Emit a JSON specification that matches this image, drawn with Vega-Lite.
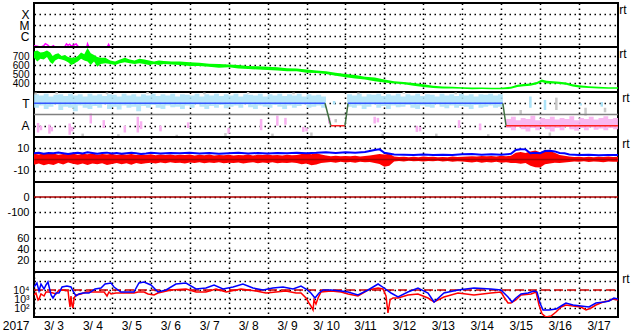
{
"$schema": "https://vega.github.io/schema/vega-lite/v6.json",
"background": "white",
"padding": {"left": 1, "top": 2, "right": 0, "bottom": 0},
"spacing": 0,
"bounds": "flush",
"config": {
  "font": "Liberation Sans",
  "view": {"stroke": "black", "strokeWidth": 2},
  "axis": {"labelFont": "Liberation Sans", "labelFontSize": 11, "labelColor": "black", "ticks": false, "domain": false, "grid": true, "gridColor": "black", "gridDash": [1.5, 3.5], "gridWidth": 1.5, "gridOpacity": 1, "labelPadding": 5, "labelOverlap": false, "labelBound": false},
  "title": {"fontSize": 12, "fontWeight": "normal", "font": "Liberation Sans", "color": "black"},
  "concat": {"spacing": 0}
},
"resolve": {"scale": {"x": "independent", "y": "independent"}},
"datasets": {
  "ends": [{"h": 0}, {"h": 360}],
  "xr": [{"h":0,"v":1.3e-7},{"h":2,"v":1.2e-7},{"h":4,"v":0.95e-7},{"h":6,"v":1.3e-7},{"h":7,"v":2e-7},{"h":8.5,"v":1.5e-7},{"h":10,"v":0.9e-7},{"h":12,"v":1.3e-7},{"h":13,"v":0.9e-7},{"h":18.5,"v":0.9e-7},{"h":19,"v":1.1e-7},{"h":20,"v":1.9e-7},{"h":21,"v":1.4e-7},{"h":22,"v":1.8e-7},{"h":23,"v":1.2e-7},{"h":25,"v":1.6e-7},{"h":26,"v":1.9e-7},{"h":27,"v":1.2e-7},{"h":29,"v":0.9e-7},{"h":32.5,"v":0.9e-7},{"h":33,"v":1.9e-7},{"h":34,"v":0.9e-7},{"h":45,"v":0.9e-7},{"h":46,"v":1.7e-7},{"h":47,"v":0.9e-7},{"h":60,"v":0.8e-7},{"h":360,"v":0.8e-7}],
  "sw": [{"h":0,"lo":680,"hi":750},{"h":2,"lo":640,"hi":760},{"h":4,"lo":670,"hi":740},{"h":6,"lo":660,"hi":745},{"h":8,"lo":690,"hi":760},{"h":10,"lo":630,"hi":740},{"h":11.5,"lo":610,"hi":700},{"h":13,"lo":650,"hi":720},{"h":15,"lo":670,"hi":730},{"h":17,"lo":660,"hi":700},{"h":19,"lo":650,"hi":710},{"h":21,"lo":630,"hi":690},{"h":23,"lo":600,"hi":680},{"h":25,"lo":620,"hi":680},{"h":27,"lo":640,"hi":700},{"h":29,"lo":670,"hi":740},{"h":31,"lo":650,"hi":720},{"h":33,"lo":640,"hi":790},{"h":35,"lo":600,"hi":730},{"h":37,"lo":640,"hi":710},{"h":39,"lo":580,"hi":690},{"h":41,"lo":610,"hi":680},{"h":44,"lo":620,"hi":680},{"h":47,"lo":610,"hi":650},{"h":50,"lo":600,"hi":640},{"h":53,"lo":620,"hi":660},{"h":56,"lo":630,"hi":680},{"h":59,"lo":620,"hi":660},{"h":62,"lo":610,"hi":650},{"h":65,"lo":620,"hi":670},{"h":68,"lo":610,"hi":660},{"h":71,"lo":600,"hi":650},{"h":74,"lo":610,"hi":640},{"h":77,"lo":600,"hi":650},{"h":80,"lo":610,"hi":645},{"h":85,"lo":605,"hi":640},{"h":90,"lo":600,"hi":640},{"h":96,"lo":590,"hi":630},{"h":102,"lo":590,"hi":625},{"h":108,"lo":580,"hi":615},{"h":114,"lo":570,"hi":610},{"h":120,"lo":575,"hi":605},{"h":126,"lo":560,"hi":600},{"h":132,"lo":555,"hi":590},{"h":138,"lo":550,"hi":585},{"h":144,"lo":545,"hi":580},{"h":150,"lo":540,"hi":575},{"h":156,"lo":530,"hi":565},{"h":162,"lo":530,"hi":560},{"h":168,"lo":515,"hi":550},{"h":174,"lo":510,"hi":540},{"h":180,"lo":500,"hi":530},{"h":186,"lo":480,"hi":515},{"h":192,"lo":465,"hi":500},{"h":198,"lo":450,"hi":490},{"h":204,"lo":440,"hi":470},{"h":210,"lo":420,"hi":460},{"h":216,"lo":405,"hi":440},{"h":222,"lo":395,"hi":420},{"h":228,"lo":385,"hi":410},{"h":234,"lo":370,"hi":400},{"h":240,"lo":355,"hi":385},{"h":246,"lo":345,"hi":370},{"h":252,"lo":340,"hi":360},{"h":258,"lo":338,"hi":357},{"h":264,"lo":335,"hi":352},{"h":270,"lo":330,"hi":350},{"h":276,"lo":332,"hi":350},{"h":282,"lo":330,"hi":348},{"h":288,"lo":330,"hi":348},{"h":294,"lo":335,"hi":358},{"h":298,"lo":355,"hi":380},{"h":302,"lo":365,"hi":390},{"h":306,"lo":370,"hi":395},{"h":310,"lo":385,"hi":410},{"h":313,"lo":410,"hi":440},{"h":316,"lo":395,"hi":425},{"h":320,"lo":395,"hi":420},{"h":324,"lo":390,"hi":415},{"h":328,"lo":380,"hi":405},{"h":332,"lo":360,"hi":385},{"h":336,"lo":350,"hi":375},{"h":342,"lo":345,"hi":365},{"h":348,"lo":338,"hi":357},{"h":354,"lo":336,"hi":352},{"h":360,"lo":335,"hi":352}],
  "tb": [{"g":1,"h":0,"lo":2.6,"hi":3.8},{"g":1,"h":3,"lo":2.8,"hi":3.7},{"g":1,"h":6,"lo":2.5,"hi":3.85},{"g":1,"h":9,"lo":2.7,"hi":3.6},{"g":1,"h":12,"lo":2.9,"hi":3.75},{"g":1,"h":15,"lo":2.4,"hi":3.8},{"g":1,"h":18,"lo":2.7,"hi":3.65},{"g":1,"h":21,"lo":2.6,"hi":3.85},{"g":1,"h":24,"lo":2.3,"hi":3.7},{"g":1,"h":27,"lo":2.8,"hi":3.8},{"g":1,"h":30,"lo":2.6,"hi":3.6},{"g":1,"h":33,"lo":2.5,"hi":3.85},{"g":1,"h":36,"lo":2.75,"hi":3.7},{"g":1,"h":39,"lo":2.6,"hi":3.8},{"g":1,"h":42,"lo":2.9,"hi":3.65},{"g":1,"h":45,"lo":2.5,"hi":3.8},{"g":1,"h":48,"lo":2.7,"hi":3.75},{"g":1,"h":51,"lo":2.45,"hi":3.6},{"g":1,"h":54,"lo":2.8,"hi":3.85},{"g":1,"h":57,"lo":2.6,"hi":3.7},{"g":1,"h":60,"lo":2.7,"hi":3.8},{"g":1,"h":63,"lo":2.3,"hi":3.6},{"g":1,"h":66,"lo":2.75,"hi":3.8},{"g":1,"h":69,"lo":2.6,"hi":3.7},{"g":1,"h":72,"lo":2.85,"hi":3.85},{"g":1,"h":75,"lo":2.6,"hi":3.65},{"g":1,"h":78,"lo":2.5,"hi":3.8},{"g":1,"h":81,"lo":2.8,"hi":3.7},{"g":1,"h":84,"lo":2.65,"hi":3.85},{"g":1,"h":87,"lo":2.7,"hi":3.6},{"g":1,"h":90,"lo":2.5,"hi":3.8},{"g":1,"h":93,"lo":2.8,"hi":3.75},{"g":1,"h":96,"lo":2.6,"hi":3.7},{"g":1,"h":99,"lo":2.9,"hi":3.85},{"g":1,"h":102,"lo":2.7,"hi":3.6},{"g":1,"h":105,"lo":2.5,"hi":3.8},{"g":1,"h":108,"lo":2.75,"hi":3.7},{"g":1,"h":111,"lo":2.6,"hi":3.85},{"g":1,"h":114,"lo":2.85,"hi":3.65},{"g":1,"h":117,"lo":2.55,"hi":3.8},{"g":1,"h":120,"lo":2.7,"hi":3.7},{"g":1,"h":123,"lo":2.8,"hi":3.85},{"g":1,"h":126,"lo":2.6,"hi":3.6},{"g":1,"h":129,"lo":2.9,"hi":3.8},{"g":1,"h":132,"lo":2.65,"hi":3.75},{"g":1,"h":135,"lo":2.5,"hi":3.7},{"g":1,"h":138,"lo":2.8,"hi":3.85},{"g":1,"h":141,"lo":2.7,"hi":3.6},{"g":1,"h":144,"lo":2.6,"hi":3.8},{"g":1,"h":147,"lo":2.85,"hi":3.7},{"g":1,"h":150,"lo":2.7,"hi":3.85},{"g":1,"h":153,"lo":2.5,"hi":3.65},{"g":1,"h":156,"lo":2.8,"hi":3.8},{"g":1,"h":159,"lo":2.6,"hi":3.7},{"g":1,"h":162,"lo":2.75,"hi":3.85},{"g":1,"h":165,"lo":2.9,"hi":3.6},{"g":1,"h":168,"lo":2.6,"hi":3.8},{"g":1,"h":171,"lo":2.7,"hi":3.7},{"g":1,"h":174,"lo":2.8,"hi":3.75},{"g":1,"h":177,"lo":2.6,"hi":3.6},{"g":1,"h":180,"lo":2.6,"hi":3.6},
        {"g":2,"h":193,"lo":2.7,"hi":3.8},{"g":2,"h":196,"lo":2.6,"hi":3.7},{"g":2,"h":199,"lo":2.8,"hi":3.85},{"g":2,"h":202,"lo":2.5,"hi":3.6},{"g":2,"h":205,"lo":2.7,"hi":3.8},{"g":2,"h":208,"lo":2.9,"hi":3.75},{"g":2,"h":211,"lo":2.6,"hi":3.85},{"g":2,"h":214,"lo":2.75,"hi":3.65},{"g":2,"h":217,"lo":2.5,"hi":3.8},{"g":2,"h":220,"lo":2.8,"hi":3.7},{"g":2,"h":223,"lo":2.65,"hi":3.85},{"g":2,"h":226,"lo":2.7,"hi":3.6},{"g":2,"h":229,"lo":2.85,"hi":3.8},{"g":2,"h":232,"lo":2.6,"hi":3.7},{"g":2,"h":235,"lo":2.5,"hi":3.85},{"g":2,"h":238,"lo":2.8,"hi":3.65},{"g":2,"h":241,"lo":2.7,"hi":3.8},{"g":2,"h":244,"lo":2.6,"hi":3.75},{"g":2,"h":247,"lo":2.9,"hi":3.6},{"g":2,"h":250,"lo":2.7,"hi":3.85},{"g":2,"h":253,"lo":2.55,"hi":3.7},{"g":2,"h":256,"lo":2.8,"hi":3.8},{"g":2,"h":259,"lo":2.6,"hi":3.65},{"g":2,"h":262,"lo":2.75,"hi":3.85},{"g":2,"h":265,"lo":2.7,"hi":3.7},{"g":2,"h":268,"lo":2.5,"hi":3.8},{"g":2,"h":271,"lo":2.85,"hi":3.6},{"g":2,"h":274,"lo":2.6,"hi":3.8},{"g":2,"h":277,"lo":2.7,"hi":3.75},{"g":2,"h":280,"lo":2.8,"hi":3.85},{"g":2,"h":283,"lo":2.6,"hi":3.7},{"g":2,"h":286,"lo":2.7,"hi":3.8},{"g":2,"h":289,"lo":2.7,"hi":3.8}],
  "lbr": [{"h":185,"lo":2.9,"hi":3.2},{"h":306,"lo":2.6,"hi":3.6},{"h":315,"lo":2.4,"hi":3.3},{"h":337,"lo":2.8,"hi":3.0},{"h":350,"lo":2.7,"hi":3.1}],
  "gr": [{"h":1,"lo":3.75,"hi":3.95},{"h":14,"lo":3.8,"hi":4},{"h":30,"lo":0,"hi":0.3},{"h":45,"lo":3.8,"hi":3.95},{"h":52,"lo":0.05,"hi":0.25},{"h":70,"lo":3.85,"hi":4},{"h":88,"lo":0,"hi":0.2},{"h":105,"lo":3.8,"hi":3.95},{"h":118,"lo":0.1,"hi":0.35},{"h":132,"lo":3.85,"hi":4},{"h":147,"lo":0,"hi":0.3},{"h":160,"lo":3.8,"hi":3.95},{"h":171,"lo":0.1,"hi":0.4},{"h":186,"lo":1.3,"hi":1.6},{"h":200,"lo":3.8,"hi":3.95},{"h":215,"lo":0,"hi":0.3},{"h":228,"lo":3.85,"hi":4},{"h":248,"lo":0.05,"hi":0.3},{"h":260,"lo":3.8,"hi":3.95},{"h":280,"lo":0,"hi":0.25},{"h":300,"lo":2.0,"hi":2.4},{"h":318,"lo":0.1,"hi":0.4},{"h":322,"lo":2.4,"hi":3.5},{"h":340,"lo":1.9,"hi":2.6},{"h":352,"lo":2.2,"hi":2.6}],
  "pk": [{"h":2.5,"lo":0.4,"hi":1.25},{"h":4.3,"lo":0.6,"hi":1.0},{"h":9.5,"lo":0.3,"hi":1.1},{"h":11,"lo":0.5,"hi":0.9},{"h":22,"lo":0.2,"hi":1.2},{"h":23.5,"lo":0.5,"hi":0.9},{"h":35,"lo":1.2,"hi":2.1},{"h":43,"lo":0.8,"hi":1.5},{"h":56,"lo":0.4,"hi":1.0},{"h":64,"lo":0.4,"hi":1.8},{"h":66,"lo":0.7,"hi":1.4},{"h":78,"lo":0.5,"hi":1.0},{"h":95,"lo":0.8,"hi":1.3},{"h":120,"lo":0.3,"hi":0.8},{"h":140,"lo":0.6,"hi":1.6},{"h":150,"lo":1.0,"hi":1.9},{"h":155,"lo":1.1,"hi":1.7},{"h":166,"lo":0.45,"hi":0.9},{"h":168,"lo":0.5,"hi":0.8},{"h":182,"lo":1.2,"hi":1.7},{"h":210,"lo":1.2,"hi":1.8},{"h":212,"lo":1.3,"hi":1.7},{"h":236,"lo":0.45,"hi":1.0},{"h":238,"lo":0.5,"hi":0.9},{"h":262,"lo":0.8,"hi":1.5},{"h":275,"lo":0.6,"hi":1.2}],
  "pb": [{"h":291,"lo":0.8,"hi":1.6},{"h":294,"lo":0.6,"hi":1.8},{"h":297,"lo":0.9,"hi":1.5},{"h":300,"lo":0.7,"hi":1.7},{"h":303,"lo":0.5,"hi":1.6},{"h":306,"lo":0.8,"hi":1.9},{"h":309,"lo":0.6,"hi":1.5},{"h":312,"lo":0.9,"hi":1.7},{"h":315,"lo":0.7,"hi":1.6},{"h":318,"lo":0.5,"hi":1.8},{"h":321,"lo":0.8,"hi":1.55},{"h":324,"lo":0.6,"hi":1.7},{"h":327,"lo":0.9,"hi":1.6},{"h":330,"lo":0.7,"hi":1.85},{"h":333,"lo":0.55,"hi":1.5},{"h":336,"lo":0.8,"hi":1.7},{"h":339,"lo":0.6,"hi":1.6},{"h":342,"lo":0.85,"hi":1.8},{"h":345,"lo":0.65,"hi":1.55},{"h":348,"lo":0.75,"hi":1.7},{"h":351,"lo":0.6,"hi":1.85},{"h":354,"lo":0.8,"hi":1.6},{"h":357,"lo":0.7,"hi":1.7},{"h":360,"lo":0.7,"hi":1.7}],
  "st": [{"h":0,"v":3,"s":1,"c":"b"},{"h":179.4,"v":3,"s":1,"c":"b"},{"h":179.4,"v":3,"s":2,"c":"g"},{"h":183,"v":1,"s":2,"c":"g"},{"h":183,"v":1,"s":3,"c":"r"},{"h":191.7,"v":1,"s":3,"c":"r"},{"h":191.7,"v":1,"s":4,"c":"g"},{"h":193.6,"v":3,"s":4,"c":"g"},{"h":193.6,"v":3,"s":5,"c":"b"},{"h":289,"v":3,"s":5,"c":"b"},{"h":289,"v":3,"s":6,"c":"g"},{"h":291,"v":1,"s":6,"c":"g"},{"h":291,"v":1,"s":7,"c":"r"},{"h":360,"v":1,"s":7,"c":"r"}],
  "bz": [{"h":0,"hi":5.2,"lo":-4.6},{"h":3,"hi":4.4,"lo":-3.5},{"h":6,"hi":5.6,"lo":-5.1},{"h":9,"hi":4.8,"lo":-4.0},{"h":12,"hi":5.3,"lo":-4.8},{"h":15,"hi":4.2,"lo":-3.2},{"h":18,"hi":5.0,"lo":-4.4},{"h":21,"hi":4.6,"lo":-2.6},{"h":24,"hi":5.4,"lo":-3.8},{"h":27,"hi":4.3,"lo":-4.6},{"h":30,"hi":5.1,"lo":-3.5},{"h":33,"hi":4.7,"lo":-4.9},{"h":36,"hi":5.5,"lo":-3.6},{"h":39,"hi":4.2,"lo":-4.3},{"h":42,"hi":4.9,"lo":-3.3},{"h":45,"hi":4.4,"lo":-4.8},{"h":48,"hi":5.2,"lo":-3.9},{"h":51,"hi":4.0,"lo":-3.0},{"h":54,"hi":4.8,"lo":-4.2},{"h":57,"hi":4.3,"lo":-3.4},{"h":60,"hi":5.0,"lo":-4.6},{"h":63,"hi":3.9,"lo":-3.1},{"h":66,"hi":4.6,"lo":-4.0},{"h":69,"hi":4.1,"lo":-3.3},{"h":72,"hi":4.7,"lo":-2.9},{"h":75,"hi":3.8,"lo":-3.6},{"h":78,"hi":4.5,"lo":-2.7},{"h":81,"hi":4.0,"lo":-3.4},{"h":84,"hi":4.4,"lo":-2.5},{"h":87,"hi":3.7,"lo":-3.2},{"h":90,"hi":4.3,"lo":-2.8},{"h":93,"hi":3.9,"lo":-3.5},{"h":96,"hi":4.5,"lo":-2.6},{"h":99,"hi":3.6,"lo":-3.0},{"h":102,"hi":4.2,"lo":-2.4},{"h":105,"hi":3.8,"lo":-3.3},{"h":108,"hi":4.4,"lo":-2.7},{"h":111,"hi":3.5,"lo":-3.1},{"h":114,"hi":4.1,"lo":-2.5},{"h":117,"hi":3.7,"lo":-3.4},{"h":120,"hi":4.3,"lo":-2.8},{"h":123,"hi":3.6,"lo":-3.2},{"h":126,"hi":4.0,"lo":-2.6},{"h":129,"hi":3.8,"lo":-3.5},{"h":132,"hi":4.4,"lo":-2.9},{"h":135,"hi":3.5,"lo":-2.4},{"h":138,"hi":4.2,"lo":-3.3},{"h":141,"hi":3.9,"lo":-2.7},{"h":144,"hi":4.5,"lo":-3.1},{"h":147,"hi":3.7,"lo":-2.5},{"h":150,"hi":4.1,"lo":-3.4},{"h":153,"hi":3.6,"lo":-2.8},{"h":156,"hi":4.3,"lo":-3.2},{"h":159,"hi":3.8,"lo":-2.6},{"h":162,"hi":4.0,"lo":-3.0},{"h":165,"hi":4.8,"lo":-4.2},{"h":168,"hi":5.3,"lo":-3.6},{"h":171,"hi":4.6,"lo":-5.0},{"h":174,"hi":5.5,"lo":-4.4},{"h":177,"hi":4.4,"lo":-3.2},{"h":180,"hi":3.6,"lo":-2.6},{"h":183,"hi":3.0,"lo":-2.2},{"h":186,"hi":3.4,"lo":-2.8},{"h":189,"hi":2.8,"lo":-2.0},{"h":192,"hi":3.2,"lo":-2.6},{"h":195,"hi":2.9,"lo":-2.3},{"h":198,"hi":3.3,"lo":-2.9},{"h":201,"hi":2.7,"lo":-2.1},{"h":204,"hi":3.1,"lo":-2.5},{"h":207,"hi":3.5,"lo":-2.2},{"h":210,"hi":4.2,"lo":-3.0},{"h":213,"hi":5.0,"lo":-4.0},{"h":216,"hi":4.4,"lo":-6.5},{"h":219,"hi":5.2,"lo":-5.5},{"h":222,"hi":2.6,"lo":-1.8},{"h":225,"hi":2.2,"lo":-1.4},{"h":228,"hi":2.5,"lo":-1.7},{"h":231,"hi":2.0,"lo":-1.2},{"h":234,"hi":2.4,"lo":-1.6},{"h":237,"hi":2.1,"lo":-1.3},{"h":240,"hi":2.6,"lo":-1.8},{"h":243,"hi":2.2,"lo":-1.4},{"h":246,"hi":2.5,"lo":-1.6},{"h":249,"hi":2.0,"lo":-1.2},{"h":252,"hi":2.3,"lo":-1.7},{"h":255,"hi":2.1,"lo":-1.3},{"h":258,"hi":2.6,"lo":-1.9},{"h":261,"hi":2.2,"lo":-1.5},{"h":264,"hi":2.4,"lo":-1.8},{"h":267,"hi":2.7,"lo":-2.2},{"h":270,"hi":3.0,"lo":-2.6},{"h":273,"hi":2.6,"lo":-2.1},{"h":276,"hi":3.2,"lo":-2.8},{"h":279,"hi":2.8,"lo":-2.3},{"h":282,"hi":3.1,"lo":-2.7},{"h":285,"hi":2.7,"lo":-2.0},{"h":288,"hi":3.3,"lo":-2.9},{"h":291,"hi":2.9,"lo":-2.4},{"h":294,"hi":3.4,"lo":-3.0},{"h":297,"hi":6.0,"lo":-3.2},{"h":300,"hi":6.6,"lo":-3.8},{"h":303,"hi":5.8,"lo":-3.0},{"h":306,"hi":7.2,"lo":-5.5},{"h":309,"hi":8.0,"lo":-6.8},{"h":312,"hi":6.5,"lo":-7.0},{"h":315,"hi":8.2,"lo":-4.2},{"h":318,"hi":7.5,"lo":-3.5},{"h":321,"hi":6.0,"lo":-2.8},{"h":324,"hi":4.0,"lo":-3.0},{"h":327,"hi":3.4,"lo":-2.6},{"h":330,"hi":2.6,"lo":-2.2},{"h":333,"hi":2.2,"lo":-1.8},{"h":336,"hi":2.5,"lo":-2.1},{"h":339,"hi":2.0,"lo":-1.6},{"h":342,"hi":2.4,"lo":-2.3},{"h":345,"hi":2.1,"lo":-1.7},{"h":348,"hi":2.5,"lo":-2.0},{"h":351,"hi":2.2,"lo":-2.4},{"h":354,"hi":2.6,"lo":-1.8},{"h":357,"hi":2.3,"lo":-2.1},{"h":360,"hi":2.4,"lo":-1.9}],
  "bt": [{"h":0,"v":5.5},{"h":3,"v":6.0},{"h":6,"v":5.2},{"h":9,"v":5.8},{"h":12,"v":5.5},{"h":15,"v":6.2},{"h":18,"v":5.6},{"h":21,"v":5.0},{"h":24,"v":5.6},{"h":27,"v":6.0},{"h":30,"v":5.3},{"h":33,"v":6.4},{"h":36,"v":5.8},{"h":39,"v":5.2},{"h":42,"v":5.7},{"h":45,"v":6.1},{"h":48,"v":5.4},{"h":51,"v":5.8},{"h":54,"v":5.2},{"h":57,"v":5.6},{"h":60,"v":6.0},{"h":63,"v":5.5},{"h":66,"v":5.0},{"h":69,"v":5.4},{"h":72,"v":5.9},{"h":78,"v":5.3},{"h":84,"v":5.8},{"h":90,"v":5.5},{"h":96,"v":6.0},{"h":102,"v":5.4},{"h":108,"v":5.7},{"h":114,"v":5.2},{"h":120,"v":5.6},{"h":126,"v":5.9},{"h":132,"v":5.4},{"h":138,"v":5.8},{"h":144,"v":5.3},{"h":150,"v":5.7},{"h":156,"v":5.5},{"h":162,"v":6.0},{"h":168,"v":5.6},{"h":174,"v":5.9},{"h":180,"v":6.4},{"h":186,"v":5.8},{"h":192,"v":6.5},{"h":198,"v":6.0},{"h":204,"v":6.6},{"h":210,"v":8.5},{"h":213,"v":9.0},{"h":216,"v":6.0},{"h":222,"v":4.5},{"h":228,"v":4.2},{"h":234,"v":4.0},{"h":240,"v":4.4},{"h":246,"v":4.0},{"h":252,"v":4.3},{"h":258,"v":4.0},{"h":264,"v":4.6},{"h":270,"v":4.8},{"h":276,"v":4.2},{"h":282,"v":4.6},{"h":288,"v":4.3},{"h":294,"v":5.0},{"h":297,"v":8.5},{"h":300,"v":9.2},{"h":303,"v":9.0},{"h":306,"v":5.5},{"h":309,"v":6.0},{"h":312,"v":5.6},{"h":315,"v":7.5},{"h":318,"v":7.8},{"h":321,"v":7.2},{"h":324,"v":5.8},{"h":327,"v":5.6},{"h":330,"v":4.5},{"h":336,"v":4.0},{"h":342,"v":4.2},{"h":348,"v":3.8},{"h":354,"v":4.1},{"h":360,"v":4.0}],
  "ef": [{"h":0,"v":21500},{"h":1.8,"v":60000},{"h":3.1,"v":7740},{"h":4.3,"v":46400},{"h":6.2,"v":12900},{"h":7.4,"v":36000},{"h":8.6,"v":77400},{"h":10.5,"v":2780},{"h":11.7,"v":1290},{"h":13.6,"v":4640},{"h":15.4,"v":4640},{"h":17.3,"v":21500},{"h":20.3,"v":27800},{"h":22.8,"v":21500},{"h":24,"v":7740},{"h":25.9,"v":2150},{"h":27.7,"v":3600},{"h":30.2,"v":4640},{"h":33.9,"v":4640},{"h":37.6,"v":12900},{"h":41.3,"v":16700},{"h":43.8,"v":46400},{"h":47.5,"v":60000},{"h":49.3,"v":21500},{"h":53.6,"v":6000},{"h":61.6,"v":6000},{"h":64.7,"v":60000},{"h":67.8,"v":77400},{"h":72.1,"v":36000},{"h":76.4,"v":6000},{"h":81.4,"v":10000},{"h":87.5,"v":46400},{"h":93.7,"v":60000},{"h":99.9,"v":12900},{"h":106,"v":16700},{"h":111,"v":36000},{"h":116.5,"v":12900},{"h":122.7,"v":21500},{"h":128.8,"v":46400},{"h":135,"v":16700},{"h":141.2,"v":10000},{"h":147.3,"v":16700},{"h":153.5,"v":21500},{"h":159.7,"v":12900},{"h":164.6,"v":27800},{"h":167.7,"v":12900},{"h":170.7,"v":4640},{"h":173.2,"v":1290},{"h":175.7,"v":4640},{"h":178.2,"v":10000},{"h":183.1,"v":10000},{"h":189.3,"v":7740},{"h":193.6,"v":6000},{"h":199.7,"v":2780},{"h":205.9,"v":10000},{"h":212.1,"v":46400},{"h":215.8,"v":16700},{"h":220.1,"v":4640},{"h":224.4,"v":1670},{"h":230.5,"v":6000},{"h":236.7,"v":16700},{"h":242.9,"v":4640},{"h":246.6,"v":464},{"h":252.7,"v":4640},{"h":261.4,"v":10000},{"h":271.2,"v":16700},{"h":281.7,"v":12900},{"h":287.9,"v":10000},{"h":289.7,"v":4640},{"h":292.2,"v":1670},{"h":294.7,"v":464},{"h":297.1,"v":1290},{"h":300.2,"v":3600},{"h":304.5,"v":4640},{"h":308.2,"v":7740},{"h":310.1,"v":6000},{"h":311.9,"v":360},{"h":313.8,"v":60},{"h":317.5,"v":60},{"h":321.8,"v":77},{"h":324.9,"v":167},{"h":327.9,"v":360},{"h":332.3,"v":215},{"h":337.2,"v":167},{"h":342.1,"v":129},{"h":346.4,"v":360},{"h":351.4,"v":464},{"h":354.5,"v":600},{"h":357.5,"v":1290},{"h":360,"v":1000}],
  "pf": [{"h":0,"v":2780},{"h":1.2,"v":4640},{"h":2.5,"v":774},{"h":3.1,"v":1000},{"h":4.3,"v":3600},{"h":6.2,"v":2150},{"h":7.4,"v":6000},{"h":9.2,"v":6000},{"h":11.7,"v":4640},{"h":13.6,"v":3600},{"h":15.4,"v":10000},{"h":18.5,"v":10000},{"h":21,"v":7740},{"h":21.6,"v":774},{"h":22.2,"v":129},{"h":22.8,"v":2150},{"h":23.4,"v":215},{"h":24,"v":100},{"h":24.7,"v":1290},{"h":25.9,"v":2780},{"h":29,"v":3600},{"h":32.1,"v":6000},{"h":38.2,"v":6000},{"h":43.2,"v":6000},{"h":45,"v":2150},{"h":46.2,"v":6000},{"h":47.5,"v":3600},{"h":50.5,"v":4640},{"h":56.7,"v":4640},{"h":61.6,"v":4640},{"h":64.1,"v":6000},{"h":67.8,"v":6000},{"h":70.3,"v":3600},{"h":74,"v":2780},{"h":76.4,"v":4640},{"h":84.5,"v":10000},{"h":93.7,"v":12900},{"h":99.9,"v":6000},{"h":106,"v":6000},{"h":112.2,"v":12900},{"h":118.4,"v":6000},{"h":127.6,"v":12900},{"h":136.9,"v":7740},{"h":143,"v":4640},{"h":149.2,"v":6000},{"h":155.3,"v":7740},{"h":161.5,"v":4640},{"h":164.6,"v":4640},{"h":167.7,"v":1290},{"h":169.5,"v":360},{"h":170.7,"v":167},{"h":172,"v":60},{"h":172.6,"v":774},{"h":173.8,"v":278},{"h":175.1,"v":1290},{"h":176.9,"v":6000},{"h":183.1,"v":7740},{"h":189.3,"v":6000},{"h":193.6,"v":3600},{"h":199.7,"v":2150},{"h":205.9,"v":10000},{"h":212.1,"v":16700},{"h":215.1,"v":12900},{"h":217,"v":2150},{"h":218.2,"v":28},{"h":219.5,"v":774},{"h":221.3,"v":1290},{"h":224.4,"v":1290},{"h":230.5,"v":2780},{"h":236.7,"v":3600},{"h":242.9,"v":1290},{"h":246.6,"v":464},{"h":252.7,"v":1670},{"h":261.4,"v":4640},{"h":271.2,"v":2780},{"h":281.7,"v":4640},{"h":287.9,"v":6000},{"h":289.7,"v":1670},{"h":292.2,"v":360},{"h":294,"v":360},{"h":297.1,"v":774},{"h":300.2,"v":2780},{"h":306.4,"v":3600},{"h":309.5,"v":6000},{"h":311.3,"v":215},{"h":313.2,"v":22},{"h":315.6,"v":10},{"h":318.7,"v":13},{"h":321.8,"v":36},{"h":324.9,"v":129},{"h":327.9,"v":215},{"h":332.3,"v":167},{"h":337.2,"v":129},{"h":340.3,"v":60},{"h":343.4,"v":100},{"h":346.4,"v":215},{"h":350.8,"v":464},{"h":353.8,"v":600},{"h":357,"v":1000},{"h":360,"v":774}]
},
"vconcat": [
  {
    "width": 584, "height": 44,
    "title": {"text": "rt", "orient": "right", "anchor": "start", "angle": 0, "align": "left", "baseline": "top", "offset": 3, "dx": -9, "dy": 2},
    "encoding": {"x": {"field": "h", "type": "quantitative", "title": null, "scale": {"domain": [0, 360], "nice": false, "zero": false}, "axis": {"values": [24,48,72,96,120,144,168,192,216,240,264,288,312,336], "labels": false}}},
    "layer": [
      {"data": {"name": "xr"}, "mark": {"type": "line", "color": "#ff00ff", "strokeWidth": 1.5, "clip": true},
       "encoding": {"y": {"field": "v", "type": "quantitative", "title": null, "scale": {"type": "log", "domain": [1e-7, 1e-3], "nice": false}, "axis": {"values": [1e-6, 1e-5, 1e-4], "labelExpr": "datum.value > 5e-5 ? 'X' : (datum.value > 5e-6 ? 'M' : 'C')", "labelFontSize": 12}}}}
    ]
  },
  {
    "width": 584, "height": 45,
    "title": {"text": "rt", "orient": "right", "anchor": "start", "angle": 0, "align": "left", "baseline": "top", "offset": 3, "dx": -9, "dy": 2},
    "encoding": {"x": {"field": "h", "type": "quantitative", "title": null, "scale": {"domain": [0, 360], "nice": false, "zero": false}, "axis": {"values": [24,48,72,96,120,144,168,192,216,240,264,288,312,336], "labels": false}}},
    "layer": [
      {"data": {"name": "sw"}, "mark": {"type": "area", "color": "#00ff00", "clip": true},
       "encoding": {"y": {"field": "lo", "type": "quantitative", "title": null, "scale": {"domain": [300, 800], "nice": false}, "axis": {"values": [400, 500, 600, 700], "labelFontSize": 10}}, "y2": {"field": "hi"}}}
    ]
  },
  {
    "width": 584, "height": 45,
    "title": {"text": "rt", "orient": "right", "anchor": "start", "angle": 0, "align": "left", "baseline": "top", "offset": 3, "dx": -9, "dy": 2},
    "encoding": {"x": {"field": "h", "type": "quantitative", "title": null, "scale": {"domain": [0, 360], "nice": false, "zero": false}, "axis": {"values": [24,48,72,96,120,144,168,192,216,240,264,288,312,336], "labels": false}}},
    "layer": [
      {"data": {"name": "tb"}, "mark": {"type": "area", "color": "#aae2f8", "opacity": 0.85, "interpolate": "step-after", "clip": true},
       "encoding": {"y": {"field": "lo", "type": "quantitative", "title": null, "scale": {"domain": [0, 4], "nice": false}, "axis": {"values": [1, 3], "labelExpr": "datum.value == 3 ? 'T' : 'A'", "labelFontSize": 12}}, "y2": {"field": "hi"}, "detail": {"field": "g"}}},
      {"data": {"name": "lbr"}, "mark": {"type": "rule", "color": "#aae2f8", "strokeWidth": 2.5},
       "encoding": {"y": {"field": "lo", "type": "quantitative", "title": null, "scale": {"domain": [0, 4], "nice": false}}, "y2": {"field": "hi"}}},
      {"data": {"name": "gr"}, "mark": {"type": "rule", "color": "#c8c8c8", "strokeWidth": 2.5},
       "encoding": {"y": {"field": "lo", "type": "quantitative", "title": null, "scale": {"domain": [0, 4], "nice": false}}, "y2": {"field": "hi"}}},
      {"data": {"name": "pk"}, "mark": {"type": "rule", "color": "#f8b0f0", "strokeWidth": 2.5},
       "encoding": {"y": {"field": "lo", "type": "quantitative", "title": null, "scale": {"domain": [0, 4], "nice": false}}, "y2": {"field": "hi"}}},
      {"data": {"name": "pb"}, "mark": {"type": "area", "color": "#f8b0f0", "opacity": 0.9, "interpolate": "step-after", "clip": true},
       "encoding": {"y": {"field": "lo", "type": "quantitative", "title": null, "scale": {"domain": [0, 4], "nice": false}}, "y2": {"field": "hi"}}},
      {"data": {"name": "ends"}, "mark": {"type": "line", "color": "#808080", "strokeWidth": 1.5},
       "encoding": {"y": {"datum": 2, "type": "quantitative", "title": null, "scale": {"domain": [0, 4], "nice": false}}}},
      {"data": {"name": "st"}, "mark": {"type": "line", "strokeWidth": 1.5},
       "encoding": {"y": {"field": "v", "type": "quantitative", "title": null, "scale": {"domain": [0, 4], "nice": false}}, "detail": {"field": "s"}, "color": {"field": "c", "type": "nominal", "scale": {"domain": ["b", "g", "r"], "range": ["#3355ff", "#407040", "#ff2020"]}, "legend": null}}}
    ]
  },
  {
    "width": 584, "height": 45,
    "title": {"text": "rt", "orient": "right", "anchor": "start", "angle": 0, "align": "left", "baseline": "top", "offset": 3, "dx": -9, "dy": 2},
    "encoding": {"x": {"field": "h", "type": "quantitative", "title": null, "scale": {"domain": [0, 360], "nice": false, "zero": false}, "axis": {"values": [24,48,72,96,120,144,168,192,216,240,264,288,312,336], "labels": false}}},
    "layer": [
      {"data": {"name": "bz"}, "mark": {"type": "area", "color": "#ff0000", "clip": true},
       "encoding": {"y": {"field": "lo", "type": "quantitative", "title": null, "scale": {"domain": [-20, 20], "nice": false}, "axis": {"values": [-10, 0, 10], "labelExpr": "'' + datum.value"}}, "y2": {"field": "hi"}}},
      {"data": {"name": "ends"}, "mark": {"type": "line", "color": "#aa0000", "strokeWidth": 1.5},
       "encoding": {"y": {"datum": 0, "type": "quantitative", "title": null, "scale": {"domain": [-20, 20], "nice": false}}}},
      {"data": {"name": "bt"}, "mark": {"type": "line", "color": "#0000ff", "strokeWidth": 2, "clip": true},
       "encoding": {"y": {"field": "v", "type": "quantitative", "title": null, "scale": {"domain": [-20, 20], "nice": false}}}}
    ]
  },
  {
    "width": 584, "height": 45,
    "encoding": {"x": {"field": "h", "type": "quantitative", "title": null, "scale": {"domain": [0, 360], "nice": false, "zero": false}, "axis": {"values": [24,48,72,96,120,144,168,192,216,240,264,288,312,336], "labels": false}}},
    "layer": [
      {"data": {"name": "ends"}, "mark": {"type": "line", "color": "#aa0000", "strokeWidth": 1.5},
       "encoding": {"y": {"datum": 0, "type": "quantitative", "title": null, "scale": {"domain": [-200, 100], "nice": false}, "axis": {"values": [-100, 0], "labelExpr": "'' + datum.value"}}}}
    ]
  },
  {
    "width": 584, "height": 45,
    "encoding": {"x": {"field": "h", "type": "quantitative", "title": null, "scale": {"domain": [0, 360], "nice": false, "zero": false}, "axis": {"values": [24,48,72,96,120,144,168,192,216,240,264,288,312,336], "labels": false}}},
    "layer": [
      {"data": {"values": []}, "mark": {"type": "point"},
       "encoding": {"y": {"field": "v", "type": "quantitative", "title": null, "scale": {"domain": [0, 80], "nice": false}, "axis": {"values": [20, 40, 60]}}}}
    ]
  },
  {
    "width": 584, "height": 45,
    "title": {"text": "rt", "orient": "right", "anchor": "start", "angle": 0, "align": "left", "baseline": "top", "offset": 3, "dx": -9, "dy": 2},
    "encoding": {"x": {"field": "h", "type": "quantitative", "title": "2017", "scale": {"domain": [0, 360], "nice": false, "zero": false}, "axis": {"values": [0,24,48,72,96,120,144,168,192,216,240,264,288,312,336], "labelOffset": 19.5, "labelExpr": "'3/' + (datum.value < 170 ? ' ' : '') + (3 + round(datum.value / 24))", "labelFlush": false, "labelOverlap": false, "labelFontSize": 12, "labelPadding": 3, "titleX": -5, "titleY": 3, "titleAlign": "right", "titleBaseline": "top", "titleFontSize": 12, "titleFontWeight": "normal", "titleFont": "Liberation Sans", "titleColor": "black"}}},
    "layer": [
      {"data": {"name": "ends"}, "mark": {"type": "line", "color": "#cc0000", "strokeWidth": 1.5, "strokeDash": [9, 4]},
       "encoding": {"y": {"datum": 10000, "type": "quantitative", "title": null, "scale": {"type": "log", "domain": [10, 1000000], "nice": false}, "axis": {"values": [100, 1000, 10000, 100000], "labelFontSize": 10.5, "labelExpr": "datum.value == 100 ? '10²' : (datum.value == 1000 ? '10³' : (datum.value == 10000 ? '10⁴' : ''))"}}}},
      {"data": {"name": "pf"}, "mark": {"type": "line", "color": "#ff0000", "strokeWidth": 1.5, "clip": true},
       "encoding": {"y": {"field": "v", "type": "quantitative", "title": null, "scale": {"type": "log", "domain": [10, 1000000], "nice": false}}}},
      {"data": {"name": "ef"}, "mark": {"type": "line", "color": "#0000ff", "strokeWidth": 1.5, "clip": true},
       "encoding": {"y": {"field": "v", "type": "quantitative", "title": null, "scale": {"type": "log", "domain": [10, 1000000], "nice": false}}}}
    ]
  }
]
}
